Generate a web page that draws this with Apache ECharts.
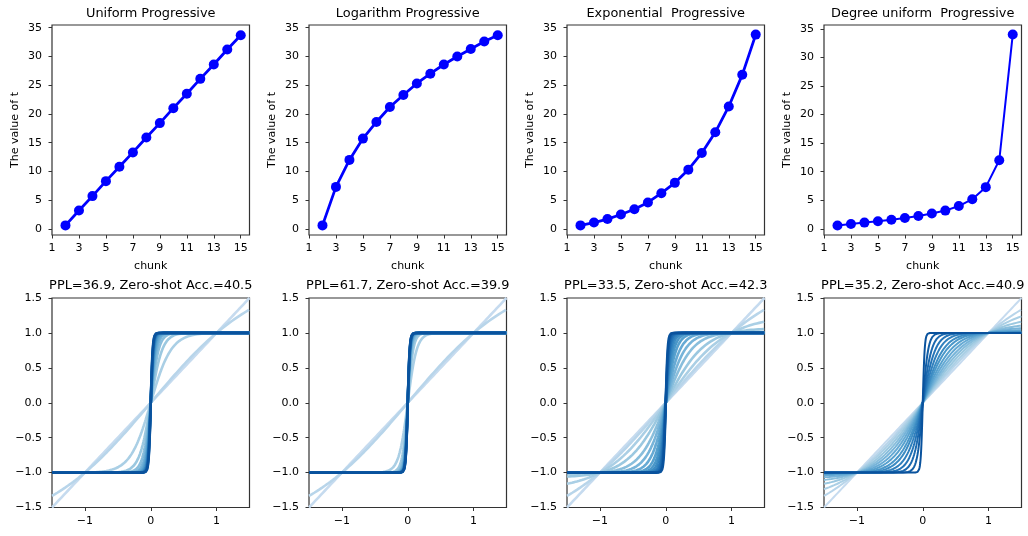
<!DOCTYPE html>
<html>
<head>
<meta charset="utf-8">
<script src="https://cdn.jsdelivr.net/npm/echarts@6/dist/echarts.min.js"></script>
<style>
  html, body { margin: 0; padding: 0; background: #fff; }
  #chart { width: 1028px; height: 536px; }
</style>
</head>
<body>
<div id="chart"></div>
<script>
// Values.
var chunks = [2, 3, 4, 5, 6, 7, 8, 9, 10, 11, 12, 13, 14, 15];
var uniformT = [0.6, 3.2, 5.7, 8.3, 10.8, 13.3, 15.9, 18.4, 21.0, 23.5, 26.1, 28.6, 31.2, 33.7];
var logT = [0.6, 7.3, 12.0, 15.7, 18.6, 21.2, 23.3, 25.3, 27.0, 28.6, 30.0, 31.3, 32.6, 33.7];
var expT = [0.6, 1.1, 1.7, 2.5, 3.4, 4.6, 6.2, 8.0, 10.3, 13.2, 16.8, 21.3, 26.8, 33.8];
var degreeT = [0.6, 0.85, 1.1, 1.35, 1.6, 1.9, 2.25, 2.7, 3.2, 4.0, 5.2, 7.3, 12.0, 34.0];

var topTitles = ['Uniform Progressive', 'Logarithm Progressive', 'Exponential  Progressive', 'Degree uniform  Progressive'];
var bottomTitles = ['PPL=36.9, Zero-shot Acc.=40.5', 'PPL=61.7, Zero-shot Acc.=39.9', 'PPL=33.5, Zero-shot Acc.=42.3', 'PPL=35.2, Zero-shot Acc.=40.9'];

var chunkTicks = [1, 3, 5, 7, 9, 11, 13, 15];
var tTicks = [0, 5, 10, 15, 20, 25, 30, 35];
var curveXTicks = [-1, 0, 1];
var curveYTicks = [-1.5, -1.0, -0.5, 0.0, 0.5, 1.0, 1.5];

var allT = [uniformT, logT, expT, degreeT];

// Layout of the 2 x 4 panels.
var lefts = [52, 309, 567, 824];
var panelW = 197.5;
var font = 'DejaVu Sans';
var spine = '#333';

// matplotlib "Blues" colormap stops.
var bluesStops = ['#f7fbff', '#deebf7', '#c6dbef', '#9ecae1', '#6baed6', '#4292c6', '#2171b5', '#08519c', '#08306b'];
function blues(v) {
  var p = v * (bluesStops.length - 1);
  var i = Math.min(Math.floor(p), bluesStops.length - 2);
  var f = p - i;
  var a = echarts.color.parse(bluesStops[i]);
  var b = echarts.color.parse(bluesStops[i + 1]);
  return 'rgb(' + [0, 1, 2].map(function (k) { return Math.round(a[k] + (b[k] - a[k]) * f); }).join(',') + ')';
}

function minus(s) {
  return String(s).replace('-', '\u2212');
}

var xs = [];
for (var i = 0; i <= 1200; i++) {
  xs.push(-1.5 + i * 3 / 1200);
}

var grids = [], xAxes = [], yAxes = [], series = [], titles = [];

function axisCommon(ticks, fmt, margin) {
  return {
    axisLine: { show: false, onZero: false },
    axisTick: { show: true, inside: false, length: 3.5, lineStyle: { color: spine, width: 1 }, customValues: ticks },
    axisLabel: { fontFamily: font, fontSize: 11, color: '#000', margin: margin, customValues: ticks, formatter: fmt },
    splitLine: { show: false }
  };
}

function titleOf(text, p, top) {
  return {
    text: text, left: lefts[p] + panelW / 2, top: top, textAlign: 'center', padding: 0,
    textStyle: { fontFamily: font, fontSize: 12.9, fontWeight: 'normal', color: '#000' }
  };
}

for (var p = 0; p < 4; p++) {
  // top row: t per chunk
  var gi = grids.length;
  grids.push({ left: lefts[p], top: 25, width: panelW, height: 210, show: true, borderColor: spine, borderWidth: 1.2, backgroundColor: '#fff' });
  titles.push(titleOf(topTitles[p], p, 7));
  var tx = axisCommon(chunkTicks, function (v) { return String(v); }, 7.5);
  xAxes.push(Object.assign(tx, {
    type: 'value', gridIndex: gi, min: 1, max: 15.65,
    name: 'chunk', nameLocation: 'middle', nameGap: 26,
    nameTextStyle: { fontFamily: font, fontSize: 11, color: '#000' }
  }));
  var ty = axisCommon(tTicks, function (v) { return String(v); }, 10);
  yAxes.push(Object.assign(ty, {
    type: 'value', gridIndex: gi, min: -1.07, max: p === 3 ? 35.67 : 35.47,
    name: 'The value of t', nameLocation: 'middle', nameGap: 31,
    nameTextStyle: { fontFamily: font, fontSize: 11, color: '#000' }
  }));
  series.push({
    type: 'line', xAxisIndex: gi, yAxisIndex: gi,
    data: chunks.map(function (c, k) { return [c, allT[p][k]]; }),
    symbol: 'circle', symbolSize: 10, showSymbol: true,
    lineStyle: { color: '#0000ff', width: p === 3 ? 2 : 2.8 },
    itemStyle: { color: '#0000ff' },
    animation: false, silent: true
  });

  // bottom row: tanh(t x) / tanh(t) curves for each t
  var bi = grids.length;
  grids.push({ left: lefts[p], top: 298, width: panelW, height: 209.5, show: true, borderColor: spine, borderWidth: 1.2, backgroundColor: '#fff' });
  titles.push(titleOf(bottomTitles[p], p, 279.5));
  var bx = axisCommon(curveXTicks, function (v) { return minus(v); }, 8.5);
  xAxes.push(Object.assign(bx, { type: 'value', gridIndex: bi, min: -1.5, max: 1.5 }));
  var by = axisCommon(curveYTicks, function (v) { return minus(v.toFixed(1)); }, 10);
  yAxes.push(Object.assign(by, { type: 'value', gridIndex: bi, min: -1.5, max: 1.5 }));

  var ts = [0].concat(allT[p]);
  var n = ts.length;
  ts.forEach(function (t, k) {
    var col = blues(0.25 + (0.87 - 0.25) * k / (n - 1));
    series.push({
      type: 'line', xAxisIndex: bi, yAxisIndex: bi,
      data: xs.map(function (x) {
        return [x, t === 0 ? x : Math.tanh(t * x) / Math.tanh(t)];
      }),
      showSymbol: false, symbol: 'none', clip: true,
      lineStyle: { color: col, width: p === 3 ? 2 : 2.6 },
      animation: false, silent: true, z: 2 + k / 100
    });
  });
}

var chart = echarts.init(document.getElementById('chart'), null, { renderer: 'canvas' });
chart.setOption({
  backgroundColor: '#fff',
  animation: false,
  title: titles,
  grid: grids,
  xAxis: xAxes,
  yAxis: yAxes,
  series: series
});
</script>
</body>
</html>
